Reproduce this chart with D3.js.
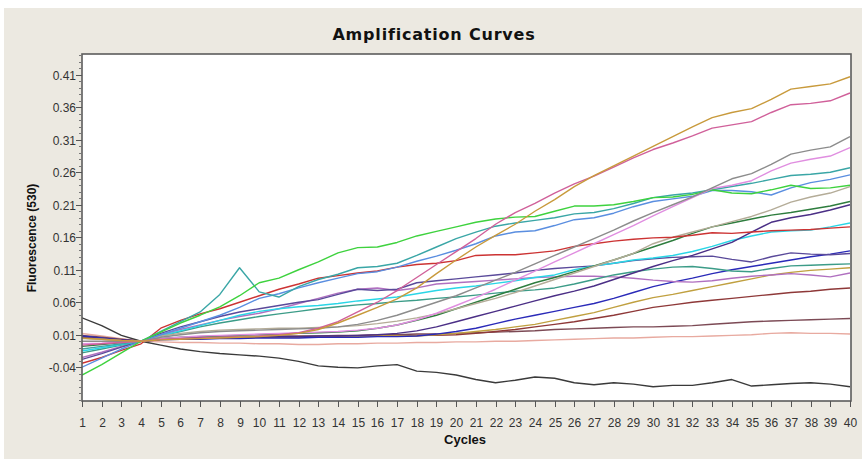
<!DOCTYPE html>
<html>
<head>
<meta charset="utf-8">
<script src="https://cdn.jsdelivr.net/npm/d3@7"></script>
<style>
  body { margin: 0; background: #fff; }
  text { font-family: "Liberation Sans", Arial, sans-serif; }
</style>
</head>
<body>
<div id="chart"></div>
<script>
// --- DATA ---
const cycles = d3.range(1, 41);
const yTickLabels = ["-0.04", "0.01", "0.06", "0.11", "0.16", "0.21", "0.26", "0.31", "0.36", "0.41"];

const gold = [0.005,0.003,0.001,0.000,0.002,0.003,0.004,0.005,0.006,0.007, 0.009,0.012,0.018,0.028,0.040,0.052,0.065,0.082,0.104,0.125, 0.145,0.163,0.180,0.200,0.218,0.238,0.255,0.270,0.285,0.300, 0.315,0.330,0.344,0.352,0.358,0.372,0.388,0.392,0.396,0.407];
const pink = [-0.006,-0.004,-0.002,0.000,0.003,0.004,0.005,0.006,0.007,0.008, 0.010,0.013,0.020,0.030,0.045,0.060,0.078,0.098,0.118,0.138, 0.158,0.180,0.198,0.212,0.228,0.242,0.254,0.268,0.282,0.295, 0.305,0.316,0.328,0.333,0.338,0.352,0.364,0.366,0.370,0.382];
const gray = [0.000,0.000,0.000,0.000,0.006,0.010,0.013,0.015,0.016,0.017, 0.018,0.019,0.020,0.022,0.026,0.032,0.040,0.050,0.060,0.070, 0.082,0.094,0.106,0.119,0.132,0.145,0.158,0.171,0.185,0.198, 0.210,0.222,0.236,0.250,0.258,0.272,0.288,0.294,0.299,0.315];
const violet = [-0.004,-0.003,-0.001,0.000,0.004,0.006,0.008,0.009,0.010,0.011, 0.012,0.013,0.014,0.015,0.017,0.020,0.025,0.033,0.043,0.055, 0.067,0.080,0.094,0.108,0.122,0.136,0.150,0.164,0.178,0.193, 0.207,0.221,0.235,0.240,0.247,0.262,0.274,0.280,0.285,0.298];
const teal = [-0.012,-0.008,-0.004,0.000,0.015,0.030,0.045,0.072,0.113,0.076, 0.068,0.084,0.095,0.103,0.113,0.115,0.120,0.132,0.145,0.158, 0.168,0.177,0.182,0.186,0.190,0.196,0.198,0.204,0.212,0.221, 0.225,0.228,0.233,0.238,0.243,0.249,0.255,0.257,0.260,0.267];
const cornflower = [-0.040,-0.026,-0.012,0.000,0.010,0.020,0.030,0.040,0.052,0.066, 0.073,0.082,0.090,0.097,0.104,0.107,0.114,0.123,0.131,0.140, 0.150,0.162,0.168,0.170,0.178,0.187,0.190,0.197,0.207,0.215, 0.219,0.223,0.232,0.232,0.230,0.225,0.236,0.244,0.249,0.256];
const green = [-0.052,-0.036,-0.018,0.000,0.014,0.028,0.040,0.053,0.070,0.090, 0.097,0.110,0.122,0.136,0.144,0.145,0.152,0.162,0.169,0.176, 0.183,0.188,0.191,0.192,0.200,0.208,0.208,0.210,0.215,0.221, 0.222,0.226,0.233,0.228,0.227,0.233,0.240,0.235,0.236,0.240];
const khaki = [0.004,0.003,0.001,0.000,0.008,0.012,0.015,0.017,0.018,0.019, 0.020,0.020,0.021,0.022,0.024,0.027,0.031,0.036,0.042,0.050, 0.058,0.066,0.075,0.085,0.095,0.105,0.115,0.125,0.135,0.150, 0.160,0.168,0.176,0.184,0.192,0.202,0.214,0.222,0.228,0.238];
const darkGreen = [-0.008,-0.005,-0.002,0.000,0.004,0.006,0.007,0.008,0.009,0.010, 0.011,0.012,0.013,0.014,0.016,0.020,0.025,0.032,0.040,0.050, 0.060,0.070,0.080,0.090,0.098,0.107,0.116,0.125,0.135,0.145, 0.155,0.166,0.176,0.182,0.188,0.194,0.198,0.203,0.208,0.215];
const darkPurple = [0.006,0.004,0.002,0.000,0.003,0.004,0.005,0.005,0.006,0.006, 0.007,0.007,0.008,0.008,0.009,0.010,0.012,0.016,0.022,0.030, 0.038,0.046,0.054,0.062,0.070,0.077,0.085,0.095,0.105,0.115, 0.124,0.132,0.142,0.152,0.168,0.183,0.190,0.195,0.202,0.210];
const cyan = [-0.015,-0.010,-0.005,0.000,0.008,0.016,0.024,0.032,0.040,0.046, 0.050,0.053,0.055,0.058,0.062,0.065,0.068,0.073,0.078,0.082, 0.085,0.089,0.093,0.098,0.102,0.110,0.116,0.120,0.125,0.128, 0.132,0.138,0.146,0.155,0.162,0.168,0.170,0.171,0.176,0.182];
const red = [-0.034,-0.025,-0.014,-0.004,0.020,0.032,0.042,0.050,0.060,0.070, 0.080,0.088,0.097,0.101,0.105,0.108,0.114,0.118,0.120,0.124, 0.132,0.133,0.133,0.136,0.139,0.146,0.150,0.154,0.157,0.159, 0.160,0.163,0.167,0.166,0.168,0.170,0.171,0.172,0.174,0.176];
const navy = [0.008,0.005,0.002,0.000,0.002,0.003,0.003,0.004,0.004,0.005, 0.005,0.005,0.006,0.006,0.006,0.007,0.007,0.008,0.011,0.015, 0.020,0.027,0.034,0.040,0.046,0.052,0.058,0.066,0.075,0.084, 0.091,0.097,0.104,0.110,0.115,0.120,0.125,0.130,0.134,0.139];
const slate = [-0.028,-0.019,-0.009,0.000,0.012,0.022,0.030,0.038,0.045,0.050, 0.055,0.060,0.064,0.072,0.080,0.078,0.080,0.090,0.093,0.096, 0.099,0.102,0.105,0.109,0.112,0.114,0.116,0.120,0.124,0.127, 0.129,0.130,0.131,0.126,0.122,0.130,0.136,0.134,0.133,0.135];
const tealGreen = [-0.018,-0.012,-0.006,0.000,0.008,0.015,0.022,0.028,0.033,0.038, 0.042,0.046,0.050,0.053,0.056,0.058,0.061,0.063,0.066,0.068, 0.071,0.074,0.077,0.079,0.082,0.088,0.095,0.102,0.107,0.111, 0.114,0.115,0.112,0.108,0.107,0.112,0.116,0.117,0.118,0.119];
const olive = [0.005,0.003,0.001,0.000,0.003,0.004,0.004,0.005,0.005,0.006, 0.006,0.006,0.007,0.007,0.007,0.008,0.008,0.008,0.010,0.012, 0.015,0.018,0.022,0.026,0.032,0.038,0.044,0.052,0.060,0.067, 0.072,0.078,0.084,0.090,0.096,0.102,0.106,0.109,0.111,0.113];
const mauve = [-0.025,-0.017,-0.008,0.000,0.010,0.018,0.025,0.032,0.038,0.043, 0.050,0.058,0.066,0.074,0.080,0.082,0.078,0.082,0.088,0.090, 0.092,0.094,0.096,0.098,0.099,0.100,0.100,0.099,0.097,0.094, 0.092,0.091,0.093,0.097,0.100,0.102,0.104,0.102,0.099,0.105];
const brown = [0.007,0.004,0.002,0.000,0.003,0.004,0.005,0.005,0.006,0.006, 0.006,0.007,0.007,0.007,0.008,0.008,0.008,0.009,0.009,0.010, 0.012,0.015,0.018,0.022,0.026,0.030,0.035,0.040,0.046,0.052, 0.056,0.060,0.063,0.066,0.069,0.072,0.075,0.077,0.080,0.082];
const darkBrown = [0.009,0.006,0.003,0.000,0.004,0.005,0.006,0.006,0.007,0.007, 0.008,0.008,0.008,0.009,0.009,0.010,0.010,0.011,0.011,0.012, 0.013,0.014,0.015,0.016,0.018,0.019,0.020,0.021,0.022,0.022, 0.023,0.024,0.026,0.028,0.030,0.031,0.032,0.033,0.034,0.035];
const salmon = [0.012,0.008,0.004,0.000,-0.001,-0.002,-0.002,-0.003,-0.003,-0.004, -0.004,-0.005,-0.005,-0.004,-0.004,-0.003,-0.003,-0.002,-0.002,-0.001, -0.001,0.000,0.000,0.001,0.002,0.003,0.004,0.005,0.005,0.006, 0.007,0.007,0.008,0.009,0.010,0.012,0.013,0.012,0.012,0.011];
const black = [0.036,0.024,0.009,0.000,-0.006,-0.012,-0.016,-0.019,-0.021,-0.023, -0.026,-0.031,-0.038,-0.040,-0.041,-0.038,-0.036,-0.046,-0.048,-0.052, -0.059,-0.064,-0.060,-0.055,-0.057,-0.064,-0.067,-0.064,-0.066,-0.070, -0.068,-0.068,-0.064,-0.059,-0.069,-0.067,-0.065,-0.064,-0.066,-0.070];

// colours, in drawing order
const series = [
  { values: salmon, color: "#e8aaa0" },
  { values: black, color: "#3a3a3a" },
  { values: darkBrown, color: "#7c4a55" },
  { values: brown, color: "#8e3838" },
  { values: olive, color: "#c0a040" },
  { values: navy, color: "#2a2ab8" },
  { values: mauve, color: "#b070c0" },
  { values: tealGreen, color: "#3c9c88" },
  { values: slate, color: "#5a4a9a" },
  { values: cyan, color: "#2ad6e6" },
  { values: darkPurple, color: "#4b2f86" },
  { values: darkGreen, color: "#2e7d3e" },
  { values: khaki, color: "#b4ac98" },
  { values: red, color: "#cc3333" },
  { values: cornflower, color: "#5a8ee0" },
  { values: teal, color: "#3aa6a6" },
  { values: green, color: "#3ed23e" },
  { values: violet, color: "#e08ee0" },
  { values: gray, color: "#8c8c8c" },
  { values: pink, color: "#d0609a" },
  { values: gold, color: "#c89a3c" }
];

// --- SETUP ---
const width = 864, height = 459;
const plot = { left: 82, right: 850, top: 54, bottom: 401 };

const svg = d3.select("#chart").append("svg")
  .attr("width", width)
  .attr("height", height);

svg.append("rect").attr("x", 4).attr("y", 8)
  .attr("width", 858).attr("height", height - 8)
  .attr("fill", "#ece9e1");

const x = d3.scaleLinear().domain([1, 40]).range([plot.left, plot.right]);
const y = d3.scaleLinear().domain([-0.092, 0.442]).range([plot.bottom, plot.top]);

// plot area
svg.append("rect")
  .attr("x", plot.left).attr("y", plot.top)
  .attr("width", plot.right - plot.left + 1).attr("height", plot.bottom - plot.top)
  .attr("fill", "#fff");

// title
svg.append("text")
  .attr("x", 434).attr("y", 40)
  .attr("text-anchor", "middle")
  .attr("font-size", 16).attr("font-weight", "bold")
  .style("font-family", "'DejaVu Sans', sans-serif")
  .attr("letter-spacing", 0.8)
  .attr("fill", "#111")
  .text("Amplification Curves");

// curves
svg.append("clipPath").attr("id", "clip")
  .append("rect").attr("x", plot.left).attr("y", plot.top)
  .attr("width", plot.right - plot.left + 1).attr("height", plot.bottom - plot.top);

const line = d3.line()
  .x((d, i) => x(cycles[i]))
  .y(d => y(d));

svg.append("g").attr("clip-path", "url(#clip)")
  .selectAll("path")
  .data(series)
  .join("path")
  .attr("d", d => line(d.values))
  .attr("fill", "none")
  .attr("stroke", d => d.color)
  .attr("stroke-width", 1.4)
  .attr("stroke-linejoin", "round");

// frame
svg.append("rect")
  .attr("x", plot.left).attr("y", plot.top)
  .attr("width", plot.right - plot.left + 1).attr("height", plot.bottom - plot.top)
  .attr("fill", "none")
  .attr("stroke", "#5c5c5c")
  .attr("stroke-width", 1.6);

// y axis: minor ticks every 0.01, labelled ticks every 0.05
const yAxis = svg.append("g");
yAxis.selectAll("line.minor")
  .data(d3.range(-9, 45).map(v => v / 100))
  .join("line")
  .attr("class", "minor")
  .attr("x1", plot.left - 3).attr("x2", plot.left)
  .attr("y1", d => Math.round(y(d)) + 0.5).attr("y2", d => Math.round(y(d)) + 0.5)
  .attr("stroke", "#777");

yAxis.selectAll("g.tick")
  .data(yTickLabels)
  .join("g")
  .attr("class", "tick")
  .attr("transform", d => `translate(0,${Math.round(y(+d)) + 0.5})`)
  .call(g => g.append("line")
    .attr("x1", plot.left - 6).attr("x2", plot.left)
    .attr("stroke", "#555"))
  .call(g => g.append("text")
    .attr("x", plot.left - 6).attr("dy", "0.35em")
    .attr("text-anchor", "end")
    .attr("font-size", 12)
    .attr("fill", "#333")
    .text(d => d));

// x axis
const xAxis = svg.append("g").attr("transform", `translate(0,${plot.bottom})`);
xAxis.selectAll("g.tick")
  .data(cycles)
  .join("g")
  .attr("class", "tick")
  .attr("transform", d => `translate(${Math.round(x(d)) + 0.5},0)`)
  .call(g => g.append("line")
    .attr("y1", 0).attr("y2", 6)
    .attr("stroke", "#555"))
  .call(g => g.append("text")
    .attr("y", 26)
    .attr("text-anchor", "middle")
    .attr("font-size", 12)
    .attr("fill", "#333")
    .text(d => d));

// axis titles
svg.append("text")
  .attr("x", 465).attr("y", 444)
  .attr("text-anchor", "middle")
  .attr("font-size", 13).attr("font-weight", "bold")
  .attr("fill", "#111")
  .text("Cycles");

svg.append("text")
  .attr("transform", "translate(36,238) rotate(-90)")
  .attr("text-anchor", "middle")
  .attr("font-size", 12).attr("font-weight", "bold")
  .attr("fill", "#111")
  .text("Fluorescence (530)");
</script>
</body>
</html>
